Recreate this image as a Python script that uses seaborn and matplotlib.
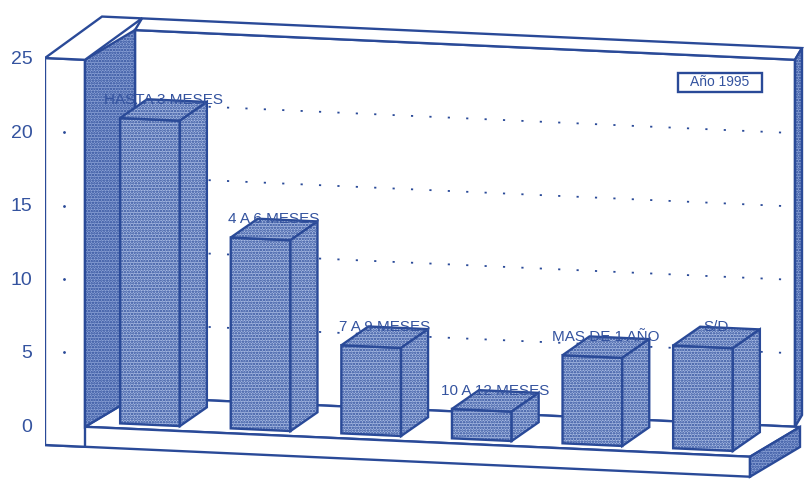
import matplotlib
matplotlib.use("Agg")
import matplotlib.pyplot as plt
from matplotlib.patches import Polygon, Rectangle
from matplotlib.transforms import Affine2D
import seaborn as sns
import pandas as pd

# ---- data ----
categories = ["HASTA 3 MESES", "4 A 6 MESES", "7 A 9 MESES",
              "10 A 12 MESES", "MAS DE 1 AÑO", "S/D"]
values = [20.8, 13.0, 6.0, 2.0, 6.0, 7.0]
yticks = [0, 5, 10, 15, 20, 25]
legend_label = "Año 1995"

sns.set_theme(style="white")
plt.rcParams['font.family'] = ['Liberation Sans', 'DejaVu Sans']
plt.rcParams['hatch.linewidth'] = 1.2

BLUE = '#2a4a98'
TXT = '#34539f'
FILL = '#a8bbe3'
DARK = '#8ba2d6'
BG = '#ffffff'
LW = 1.7

W, H = 805, 482
XS, YS = 110.6, 14.68          # px per category / per unit
fig = plt.figure(figsize=(W / 100, H / 100), dpi=100, facecolor=BG)
ax = fig.add_axes([45 / W, 0, 1 - 45 / W, 1])
ax.set_facecolor('none')

df = pd.DataFrame({'cat': categories, 'val': values})
sns.barplot(data=df, x='cat', y='val', ax=ax, width=0.54, color=FILL,
            saturation=1, edgecolor=BLUE, linewidth=LW, zorder=5)

ax.set_xlim((45 - 150) / XS, (W - 150) / XS)
ax.set_ylim((425 - H) / YS, 425 / YS)

# oblique shear of the whole scene (display coords)
k = 0.045
x0 = 45.0
SHEAR = Affine2D.from_values(1, -k, 0, 1, 0, k * x0)
TR = ax.transData + SHEAR

# geometry (data units)
xL = (45 - 150) / XS
xW = (85 - 150) / XS
xR = (750 - 150) / XS
xBR = (745 - 150) / XS
Dx, Dy = 50 / XS, 32 / YS
D2x, D2y = 57 / XS, 44 / YS
BDx, BDy = 27 / XS, 20 / YS
Fx, Fy = 0.0, 5 / YS
TOP = 25
FB = -20 / YS


def poly(pts, fc, hatch=None, z=1):
    ax.add_patch(Polygon(pts, closed=True, fc=fc, ec=BLUE, lw=LW,
                         hatch=hatch, transform=TR, zorder=z))


# back wall
poly([(xW + Dx, Dy), (xBR + Dx, Dy), (xBR + Dx, TOP + Dy), (xW + Dx, TOP + Dy)], 'white', z=1)
poly([(xW + Dx, TOP + Dy), (xBR + Dx, TOP + Dy), (xBR + D2x, TOP + D2y), (xW + D2x, TOP + D2y)], 'white', z=1)
poly([(xBR + Dx, Dy), (xBR + Dx, TOP + Dy), (xBR + D2x, TOP + D2y), (xBR + D2x, D2y)], DARK, '......', z=1)
for v in yticks[1:-1]:
    ax.plot([xW + Dx, xBR + Dx], [v + Dy, v + Dy], color=BLUE, lw=1.3,
            ls=(0, (1.2, 9)), transform=TR, zorder=1.5)
# floor
poly([(xW, 0), (xR, 0), (xR + Dx, Dy), (xW + Dx, Dy)], 'white', z=2)
poly([(xL, FB), (xR, FB), (xR, 0), (xL, 0)], 'white', z=2)
poly([(xR, FB), (xR, 0), (xR + Dx, Dy), (xR + Dx, FB + Dy)], DARK, '......', z=2)
# left wall
poly([(xL, FB), (xW, FB), (xW, TOP), (xL, TOP)], 'white', z=3)
poly([(xW, 0), (xW, TOP), (xW + Dx, TOP + Dy), (xW + Dx, Dy)], DARK, '......', z=3)
poly([(xL, TOP), (xW, TOP), (xW + D2x, TOP + D2y), (xL + D2x, TOP + D2y)], 'white', z=3)
for v in yticks[1:-1]:
    ax.plot([xL + 0.17], [v], marker='.', ms=2, color=BLUE, transform=TR, zorder=3.5)

# 3D bars built from the seaborn patches
bars = [p for p in ax.patches if isinstance(p, Rectangle)]
for p, cat in zip(bars, categories):
    p.set_hatch('......')
    p.set_transform(Affine2D().translate(Fx, Fy) + TR)
    p.set_zorder(5)
    bx0 = p.get_x() + Fx
    bx1 = bx0 + p.get_width()
    h = p.get_height()
    poly([(bx0, h + Fy), (bx1, h + Fy), (bx1 + BDx, h + Fy + BDy), (bx0 + BDx, h + Fy + BDy)], FILL, '......', z=5)
    poly([(bx1, Fy), (bx1, h + Fy), (bx1 + BDx, h + Fy + BDy), (bx1 + BDx, Fy + BDy)], FILL, '......', z=5)
    ax.text(p.get_x() + p.get_width() / 2 + Fx + BDx / 2, h + Fy + BDy, cat,
            ha='center', va='center', fontsize=11, color=TXT,
            transform=TR, zorder=6)

# axes cosmetics
ax.set_yticks(yticks)
ax.set_yticklabels([str(t) for t in yticks])
ax.tick_params(axis='y', length=0, pad=9, labelsize=14, labelcolor=TXT)
ax.set_xticks([])
ax.set_xlabel('')
ax.set_ylabel('')
for s in ax.spines.values():
    s.set_visible(False)

# legend box
fig.add_artist(Rectangle((678 / W, 1 - 92 / H), 84 / W, 19 / H, transform=fig.transFigure,
                         fc='white', ec=BLUE, lw=LW, zorder=10))
fig.text(720 / W, 1 - 82.5 / H, legend_label, ha='center', va='center',
         fontsize=10, color=TXT, zorder=11)

fig.savefig('out.png', dpi=100, facecolor=BG)
